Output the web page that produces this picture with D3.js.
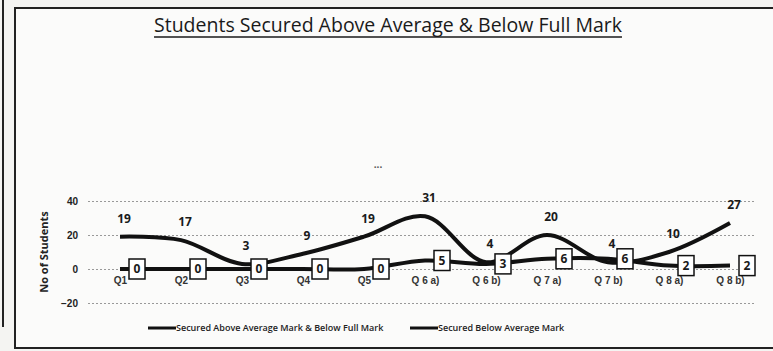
<!DOCTYPE html>
<html>
<head>
<meta charset="utf-8">
<script src="https://cdn.jsdelivr.net/npm/d3@7"></script>
<style>
  html, body { margin: 0; padding: 0; background: #f4f4f2; }
  svg { display: block; font-family: "Open Sans", "Noto Sans", sans-serif; }
</style>
</head>
<body>
<svg id="chart" width="773" height="351"></svg>
<script>
/* chart data */
const categories = ['Q1', 'Q2', 'Q3', 'Q4', 'Q5', 'Q 6 a)', 'Q 6 b)', 'Q 7 a)', 'Q 7 b)', 'Q 8 a)', 'Q 8 b)'];
const aboveAverage = [0, 0, 0, 0, 0, 5, 3, 6, 6, 2, 2];
const belowAverage = [19, 17, 3, 9, 19, 31, 4, 20, 4, 10, 27];
const yTicks = [-20, 0, 20, 40];
const seriesNames = ['Secured Above Average  Mark & Below Full Mark', 'Secured Below Average  Mark'];
const titleText = 'Students Secured Above Average & Below Full Mark';

let svg = d3.select('#chart');

/* frame lines from the scanned page */
svg.append('rect').attr('x', 15).attr('y', 8).attr('width', 800).attr('height', 340)
    .attr('fill', '#fbfbfa').attr('stroke', '#222').attr('stroke-width', 2);
svg.append('line').attr('x1', 3).attr('x2', 3).attr('y1', 0).attr('y2', 327)
    .attr('stroke', '#222').attr('stroke-width', 2);

/* scales */
let x = d3.scalePoint().domain(categories).range([120, 730]);
let y = d3.scaleLinear().domain([-20, 40]).range([303, 201]);

/* title */
let title = svg.append('text')
    .attr('x', 388).attr('y', 32)
    .attr('text-anchor', 'middle')
    .attr('font-size', 19.5)
    .attr('font-weight', 500)
    .attr('fill', '#1a1a1a')
    .text(titleText);
let tw = title.node().getComputedTextLength();
svg.append('line')
    .attr('x1', 388 - tw / 2).attr('x2', 388 + tw / 2)
    .attr('y1', 37).attr('y2', 37)
    .attr('stroke', '#1a1a1a').attr('stroke-width', 1.3);

svg.append('text').attr('x', 378).attr('y', 168).attr('text-anchor', 'middle')
    .attr('font-size', 10).attr('font-weight', 'bold').attr('fill', '#555').text('...');

/* gridlines and y axis */
let yAxis = d3.axisLeft(y).tickValues(yTicks).tickSize(-667).tickPadding(10);
let gy = svg.append('g').attr('transform', 'translate(88,0)').call(yAxis);
gy.select('.domain').remove();
gy.selectAll('.tick line').attr('stroke', '#999').attr('stroke-dasharray', '2,2');
gy.selectAll('.tick text').attr('font-size', 10).attr('font-weight', 'bold').attr('fill', '#222');

svg.append('text')
    .attr('transform', `translate(48, ${y(10)}) rotate(-90)`)
    .attr('text-anchor', 'middle')
    .attr('font-size', 11).attr('font-weight', 'bold').attr('fill', '#222')
    .text('No of Students');

/* x labels */
let xAxis = d3.axisBottom(x).tickSize(0).tickPadding(0);
let gx = svg.append('g').attr('transform', 'translate(0,277)').call(xAxis);
gx.select('.domain').remove();
gx.selectAll('.tick text').attr('font-size', 10).attr('font-weight', 600).attr('fill', '#333');

/* lines */
let line = d3.line()
    .x((d, i) => x(categories[i]))
    .y(d => y(d))
    .curve(d3.curveCatmullRom.alpha(0.5));

svg.append('path').datum(aboveAverage).attr('d', line)
    .attr('fill', 'none').attr('stroke', '#111').attr('stroke-width', 4);
svg.append('path').datum(belowAverage).attr('d', line)
    .attr('fill', 'none').attr('stroke', '#111').attr('stroke-width', 4);

/* labels of the below-average series */
svg.append('g').selectAll('text').data(belowAverage).join('text')
    .attr('x', (d, i) => x(categories[i]) + 4)
    .attr('y', d => y(d) - 14)
    .attr('text-anchor', 'middle')
    .attr('font-size', 12).attr('font-weight', 'bold').attr('fill', '#1a1a1a')
    .text(d => d);

/* boxed labels of the above-average series */
let boxes = svg.append('g').selectAll('g').data(aboveAverage).join('g')
    .attr('transform', (d, i) => `translate(${x(categories[i]) + 17}, ${y(d)})`);
boxes.append('rect')
    .attr('x', -8).attr('y', -10).attr('width', 16).attr('height', 20)
    .attr('fill', '#fff').attr('stroke', '#111').attr('stroke-width', 1.5);
boxes.append('text')
    .attr('text-anchor', 'middle').attr('dy', '0.36em')
    .attr('font-size', 12).attr('font-weight', 'bold').attr('fill', '#1a1a1a')
    .text(d => d);

/* legend */
let legendX = [148, 410];
let legend = svg.append('g').selectAll('g').data(seriesNames).join('g')
    .attr('transform', (d, i) => `translate(${legendX[i]}, 328)`);
legend.append('line').attr('x1', 0).attr('x2', 28).attr('y1', 0).attr('y2', 0)
    .attr('stroke', '#111').attr('stroke-width', 3);
legend.append('text').attr('x', 28).attr('dy', '0.35em')
    .attr('font-size', 9).attr('font-weight', 600).attr('fill', '#222')
    .text(d => d);
</script>
</body>
</html>
